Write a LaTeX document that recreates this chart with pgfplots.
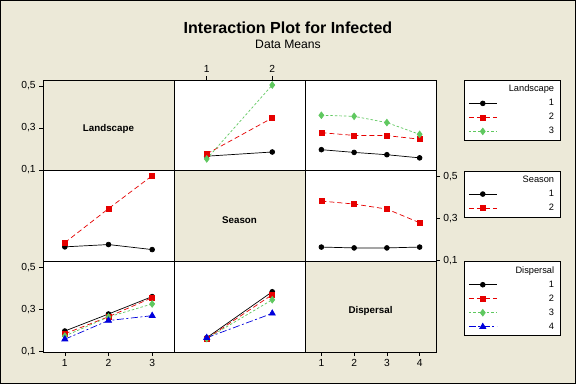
\documentclass[border=0pt]{standalone}
\usepackage{fontspec}
\setmainfont{Liberation Sans}
\usepackage{pgfplots}
\pgfplotsset{compat=1.18}
\definecolor{bgc}{RGB}{236,233,216}
\definecolor{mred}{RGB}{230,0,0}
\definecolor{mgreen}{RGB}{95,200,95}
\definecolor{mblue}{RGB}{0,0,220}
\tikzset{dlab/.style={font=\bfseries\fontsize{9.8}{11}\selectfont, yshift=-4bp}}
\pgfplotsset{
 panel/.style={scale only axis, width=131bp, height=90.67bp, anchor=north west,
   axis line style={black, line width=0.8bp}, axis background/.style={fill=white},
   ymin=0.096, ymax=0.528, xtick=\empty, ytick=\empty,
   tick style={black, line width=0.6bp}, tick align=outside, major tick length=3.8bp,
   tick label style={font=\fontsize{10.3}{12}\selectfont},
   yticklabel style={/pgf/number format/assume math mode=true,
     /pgf/number format/use comma, /pgf/number format/fixed,
     /pgf/number format/fixed zerofill, /pgf/number format/precision=1},
   xticklabel style={/pgf/number format/assume math mode=true,
     /pgf/number format/fixed, /pgf/number format/precision=0},
   clip=false,
   legend image code/.code={\draw[mark repeat=2,mark phase=2,##1] plot coordinates {(0bp,0bp) (14bp,0bp) (28bp,0bp)};},
   legend style={draw=black, fill=white, line width=0.8bp, anchor=north west,
     font=\fontsize{9.3}{11}\selectfont, inner xsep=4bp, inner ysep=2bp, row sep=0bp,
     nodes={inner ysep=2bp, inner xsep=2bp, text height=7.5bp, text depth=2.5bp}},
   legend cell align=right},
 diag/.style={panel, axis background/.style={fill=bgc}},
 s1/.style={black, solid, line width=0.7bp, mark=*, mark size=2.4bp},
 s2/.style={mred, line width=0.7bp, dash pattern=on 5bp off 3bp, mark=square*, mark size=2.5bp, mark options={solid}},
 s3/.style={mgreen, line width=0.7bp, dash pattern=on 2.5bp off 2bp, mark=diamond*, mark size=3.3bp, mark options={solid}},
 s4/.style={mblue, line width=0.7bp, dash pattern=on 7bp off 2.5bp on 2bp off 2.5bp, mark=triangle*, mark size=3.5bp, mark options={solid}},
}
\newcommand{\lt}[1]{\makebox[55bp][r]{#1}}
\begin{document}
\begin{tikzpicture}
\useasboundingbox (0bp,0bp) rectangle (576bp,384bp);
\fill[bgc] (0bp,0bp) rectangle (576bp,384bp);
\draw[black, line width=1bp] (0.5bp,0.5bp) rectangle (575.5bp,383.5bp);
\node[font=\bfseries\fontsize{16.1}{18}\selectfont, anchor=base] at (288bp,350.7bp) {Interaction Plot for Infected};
\node[font=\fontsize{12.2}{14}\selectfont, anchor=base] at (288bp,335.7bp) {Data Means};

% ---------- Row 1 ----------
\begin{axis}[diag, at={(43bp,304bp)}, xmin=0.5, xmax=3.5, ytick={0.1,0.3,0.5}]
\node[dlab] at (axis description cs:0.5,0.5) {Landscape};
\end{axis}
\begin{axis}[panel, at={(174bp,304bp)}, xmin=0.5, xmax=2.5, xtick={1,2}, xtick pos=right, xticklabel pos=right]
\addplot[s1] coordinates {(1,0.165) (2,0.185)};
\addplot[s2] coordinates {(1,0.176) (2,0.347)};
\addplot[s3] coordinates {(1,0.152) (2,0.504)};
\end{axis}
\begin{axis}[panel, at={(305bp,304bp)}, xmin=0.5, xmax=4.5, legend style={at={(1.214,1)}}]
\addlegendimage{empty legend}\addlegendentry{\lt{Landscape}}
\addplot[s1] coordinates {(1,0.196) (2,0.183) (3,0.172) (4,0.157)};\addlegendentry{\lt{1}}
\addplot[s2] coordinates {(1,0.277) (2,0.264) (3,0.263) (4,0.246)};\addlegendentry{\lt{2}}
\addplot[s3] coordinates {(1,0.360) (2,0.355) (3,0.325) (4,0.269)};\addlegendentry{\lt{3}}
\end{axis}

% ---------- Row 2 ----------
\begin{axis}[panel, at={(43bp,213.33bp)}, xmin=0.5, xmax=3.5]
\addplot[s1] coordinates {(1,0.165) (2,0.176) (3,0.152)};
\addplot[s2] coordinates {(1,0.185) (2,0.347) (3,0.504)};
\end{axis}
\begin{axis}[diag, at={(174bp,213.33bp)}, xmin=0.5, xmax=2.5]
\node[dlab] at (axis description cs:0.5,0.5) {Season};
\end{axis}
\begin{axis}[panel, at={(305bp,213.33bp)}, xmin=0.5, xmax=4.5, ytick={0.1,0.3,0.5}, ytick pos=right, yticklabel pos=right, legend style={at={(1.214,1)}}]
\addlegendimage{empty legend}\addlegendentry{\lt{Season}}
\addplot[s1] coordinates {(1,0.164) (2,0.160) (3,0.160) (4,0.164)};\addlegendentry{\lt{1}}
\addplot[s2] coordinates {(1,0.383) (2,0.369) (3,0.345) (4,0.280)};\addlegendentry{\lt{2}}
\end{axis}

% ---------- Row 3 ----------
\begin{axis}[panel, at={(43bp,122.67bp)}, xmin=0.5, xmax=3.5, ytick={0.1,0.3,0.5}, xtick={1,2,3}, ytick pos=left, xtick pos=left]
\addplot[s1] coordinates {(1,0.196) (2,0.277) (3,0.360)};
\addplot[s2] coordinates {(1,0.183) (2,0.264) (3,0.355)};
\addplot[s3] coordinates {(1,0.172) (2,0.263) (3,0.325)};
\addplot[s4] coordinates {(1,0.157) (2,0.246) (3,0.269)};
\end{axis}
\begin{axis}[panel, at={(174bp,122.67bp)}, xmin=0.5, xmax=2.5, legend style={at={(2.214,1)}}]
\addlegendimage{empty legend}\addlegendentry{\lt{Dispersal}}
\addplot[s1] coordinates {(1,0.164) (2,0.383)};\addlegendentry{\lt{1}}
\addplot[s2] coordinates {(1,0.160) (2,0.369)};\addlegendentry{\lt{2}}
\addplot[s3] coordinates {(1,0.160) (2,0.345)};\addlegendentry{\lt{3}}
\addplot[s4] coordinates {(1,0.164) (2,0.280)};\addlegendentry{\lt{4}}
\end{axis}
\begin{axis}[diag, at={(305bp,122.67bp)}, xmin=0.5, xmax=4.5, xtick={1,2,3,4}, xtick pos=left]
\node[dlab] at (axis description cs:0.5,0.5) {Dispersal};
\end{axis}
\end{tikzpicture}
\end{document}
